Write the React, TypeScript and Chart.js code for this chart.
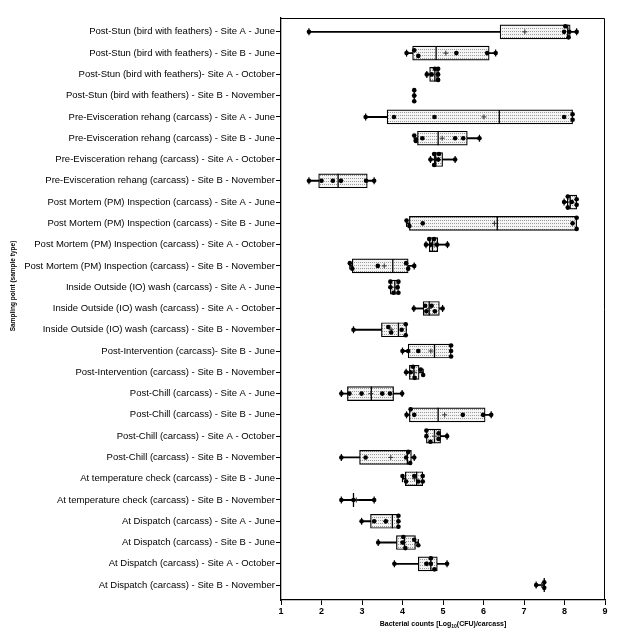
import React, { useEffect, useRef } from "react";
import { Chart, registerables } from "chart.js";

Chart.register(...registerables);

const labels = [
  "Post-Stun (bird with feathers) - Site A - June",
  "Post-Stun (bird with feathers) - Site B - June",
  "Post-Stun (bird with feathers)- Site A - October",
  "Post-Stun (bird with feathers) - Site B - November",
  "Pre-Evisceration rehang (carcass) - Site A - June",
  "Pre-Evisceration rehang (carcass) - Site B - June",
  "Pre-Evisceration rehang (carcass) - Site A - October",
  "Pre-Evisceration rehang (carcass) - Site B - November",
  "Post Mortem (PM) Inspection (carcass) - Site A - June",
  "Post Mortem (PM) Inspection (carcass) - Site B - June",
  "Post Mortem (PM) Inspection (carcass) - Site A - October",
  "Post Mortem (PM) Inspection (carcass) - Site B - November",
  "Inside Outside (IO) wash (carcass) - Site A - June",
  "Inside Outside (IO) wash (carcass) - Site A - October",
  "Inside Outside (IO) wash (carcass) - Site B - November",
  "Post-Intervention (carcass)- Site B - June",
  "Post-Intervention (carcass) - Site B - November",
  "Post-Chill (carcass) - Site A - June",
  "Post-Chill (carcass) - Site B - June",
  "Post-Chill (carcass) - Site A - October",
  "Post-Chill (carcass) - Site B - November",
  "At temperature check (carcass) - Site B - June",
  "At temperature check (carcass) - Site B - November",
  "At Dispatch (carcass) - Site A - June",
  "At Dispatch (carcass) - Site B - June",
  "At Dispatch (carcass) - Site A - October",
  "At Dispatch (carcass) - Site B - November",
];

const boxMin = [1.69, 4.10, 4.60, 4.29, 3.09, 4.29, 4.69, 1.69, 7.99, 4.10, 4.58, 2.70, 3.70, 4.28, 2.79, 4.00, 4.09, 2.49, 4.10, 4.59, 2.49, 4.00, 2.49, 2.99, 3.40, 3.80, 7.30];
const boxQ1 = [6.41, 4.25, 4.67, 4.29, 3.62, 4.37, 4.78, 1.93, 8.07, 4.17, 4.66, 2.76, 3.70, 4.51, 3.48, 4.14, 4.17, 2.64, 4.17, 4.59, 2.94, 4.07, 2.79, 3.21, 3.85, 4.39, 7.50];
const boxMedian = [8.08, 4.83, 4.80, 4.29, 6.39, 4.88, 4.82, 2.41, 8.14, 6.34, 4.74, 3.76, 3.81, 4.66, 3.90, 4.79, 4.28, 3.23, 4.88, 4.79, 4.12, 4.35, 2.79, 3.75, 4.05, 4.70, 7.50];
const boxQ3 = [8.14, 6.14, 4.86, 4.29, 8.20, 5.60, 4.99, 3.13, 8.30, 8.30, 4.87, 4.14, 3.90, 4.91, 4.10, 5.20, 4.41, 3.78, 6.04, 4.94, 4.22, 4.50, 2.79, 3.90, 4.32, 4.86, 7.50];
const boxMax = [8.30, 6.30, 4.88, 4.29, 8.20, 5.90, 5.30, 3.30, 8.30, 8.30, 5.11, 4.29, 3.90, 4.99, 4.10, 5.20, 4.51, 3.99, 6.19, 5.10, 4.29, 4.50, 3.30, 3.90, 4.39, 5.10, 7.50];
const boxMean = [7.02, 5.07, 4.79, 4.29, 6.01, 4.98, 4.89, 2.48, 8.15, 6.27, 4.78, 3.55, 3.81, 4.66, 3.72, 4.70, 4.30, 3.22, 5.04, 4.79, 3.71, 4.30, 2.86, 3.58, 4.03, 4.61, 7.43];
const samples: number[][] = [
  [1.69, 7.99, 8.02, 8.10, 8.12, 8.30],
  [4.10, 4.29, 4.39, 5.33, 6.09, 6.30],
  [4.60, 4.72, 4.80, 4.88, 4.88, 4.88],
  [4.29, 4.29, 4.29],
  [3.09, 3.79, 4.79, 7.99, 8.20, 8.20],
  [4.29, 4.33, 4.49, 5.30, 5.50, 5.90],
  [4.69, 4.78, 4.78, 4.88, 4.90, 5.30],
  [1.69, 2.00, 2.28, 2.48, 3.10, 3.30],
  [7.99, 8.08, 8.08, 8.18, 8.30, 8.30],
  [4.10, 4.17, 4.50, 8.20, 8.30, 8.30],
  [4.58, 4.66, 4.70, 4.78, 4.85, 5.11],
  [2.70, 2.76, 3.39, 4.09, 4.14, 4.29],
  [3.70, 3.70, 3.78, 3.88, 3.90, 3.90],
  [4.28, 4.56, 4.59, 4.72, 4.80, 4.99],
  [2.79, 3.65, 3.72, 3.98, 4.08, 4.08],
  [4.00, 4.14, 4.39, 5.20, 5.20, 5.20],
  [4.09, 4.20, 4.26, 4.30, 4.45, 4.51],
  [2.49, 2.69, 2.99, 3.50, 3.69, 3.99],
  [4.10, 4.20, 4.29, 5.49, 5.99, 6.19],
  [4.59, 4.59, 4.69, 4.89, 4.89, 5.10],
  [2.49, 3.09, 4.09, 4.14, 4.19, 4.29],
  [4.00, 4.09, 4.29, 4.39, 4.50, 4.50],
  [2.49, 2.79, 3.30],
  [2.99, 3.30, 3.59, 3.90, 3.90, 3.90],
  [3.40, 4.00, 4.02, 4.07, 4.29, 4.39],
  [3.80, 4.59, 4.70, 4.70, 4.79, 5.10],
  [7.30, 7.50, 7.50],
];

const FONT = "'Liberation Sans', Arial, sans-serif";

// vertical spreading of overlapping dots (in row units)
function swarm(values: number[]): number[] {
  const thr = 0.11;
  const step = 0.26;
  const idx = values.map((_, i) => i).sort((a, b) => values[a] - values[b]);
  const offs = new Array(values.length).fill(0);
  const clusters: number[][] = [];
  let cur: number[] = [];
  for (const i of idx) {
    if (cur.length && values[i] - values[cur[cur.length - 1]] > thr) {
      clusters.push(cur);
      cur = [];
    }
    cur.push(i);
  }
  if (cur.length) clusters.push(cur);
  for (const c of clusters) {
    let L = 1;
    for (const i of c) {
      const n = c.filter((j) => Math.abs(values[j] - values[i]) <= thr).length;
      L = Math.max(L, n);
    }
    L = Math.min(L, 3);
    const levels = Array.from({ length: L }, (_, k) => k - (L - 1) / 2);
    const order = levels.map((_, k) => k).sort((a, b) => Math.abs(levels[a]) - Math.abs(levels[b]) || a - b);
    const lastAt = levels.map(() => -Infinity);
    for (const i of c) {
      let chosen = -1;
      for (const k of order) {
        if (values[i] - lastAt[k] > thr) {
          chosen = k;
          break;
        }
      }
      if (chosen < 0) {
        chosen = 0;
        for (let k = 1; k < L; k++) if (lastAt[k] < lastAt[chosen]) chosen = k;
      }
      lastAt[chosen] = values[i];
      offs[i] = levels[chosen] * step;
    }
  }
  return offs;
}

function makePattern(): CanvasPattern | string {
  const c = document.createElement("canvas");
  c.width = 2;
  c.height = 3;
  const g = c.getContext("2d");
  if (!g) return "#eee";
  g.fillStyle = "#f4f4f4";
  g.fillRect(0, 0, 2, 3);
  g.fillStyle = "#9a9a9a";
  g.fillRect(0, 1, 1, 1);
  return g.createPattern(c, "repeat") || "#eee";
}

const framePlugin = {
  id: "frame",
  afterDraw(chart: any) {
    const { ctx, chartArea } = chart;
    ctx.save();
    ctx.strokeStyle = "#000";
    ctx.lineWidth = 1;
    ctx.beginPath();
    ctx.moveTo(chartArea.left, chartArea.top + 0.5);
    ctx.lineTo(chartArea.right - 0.5, chartArea.top + 0.5);
    ctx.lineTo(chartArea.right - 0.5, chartArea.bottom);
    ctx.stroke();
    ctx.restore();
  },
};

const titlesPlugin = {
  id: "titles",
  afterDraw(chart: any) {
    const { ctx, chartArea } = chart;
    ctx.save();
    ctx.fillStyle = "#000";
    // y title
    ctx.translate(13, 286);
    ctx.rotate(-Math.PI / 2);
    ctx.font = `bold 6.5px ${FONT}`;
    ctx.textAlign = "center";
    ctx.textBaseline = "middle";
    ctx.fillText("Sampling point (sample type)", 0, 0);
    ctx.restore();

    // x title with subscript
    ctx.save();
    ctx.fillStyle = "#000";
    ctx.textBaseline = "middle";
    const main = `bold 7px ${FONT}`;
    const sub = `bold 5px ${FONT}`;
    const p1 = "Bacterial counts [Log";
    const p2 = "10";
    const p3 = "(CFU)/carcass]";
    ctx.font = main;
    const w1 = ctx.measureText(p1).width;
    const w3 = ctx.measureText(p3).width;
    ctx.font = sub;
    const w2 = ctx.measureText(p2).width;
    const total = w1 + w2 + w3;
    const cx = (chartArea.left + chartArea.right) / 2;
    let x = cx - total / 2;
    const y = 624;
    ctx.textAlign = "left";
    ctx.font = main;
    ctx.fillText(p1, x, y);
    x += w1;
    ctx.font = sub;
    ctx.fillText(p2, x, y + 2.5);
    x += w2;
    ctx.font = main;
    ctx.fillText(p3, x, y);
    ctx.restore();
  },
};

export default function App() {
  const ref = useRef<HTMLCanvasElement | null>(null);

  useEffect(() => {
    document.body.style.margin = "0";
    const canvas = ref.current;
    if (!canvas) return;
    const rows = labels.map((_, i) => i + 1);
    const pattern = makePattern();

    const whiskerData = rows.map((r, i) => ({ x: [boxMin[i], boxMax[i]], y: r }));
    const boxData = rows.map((r, i) => ({ x: [boxQ1[i], boxQ3[i]], y: r }));
    const medianData = rows.map((r, i) => ({ x: boxMedian[i], y: r }));
    const meanData = rows.map((r, i) => ({ x: boxMean[i], y: r }));
    const capData: { x: number; y: number }[] = [];
    rows.forEach((r, i) => {
      if (boxMin[i] < boxQ1[i]) capData.push({ x: boxMin[i], y: r });
      if (boxMax[i] > boxQ3[i]) capData.push({ x: boxMax[i], y: r });
    });
    const pointData: { x: number; y: number }[] = [];
    samples.forEach((vals, i) => {
      const offs = swarm(vals);
      vals.forEach((v, k) => pointData.push({ x: v, y: rows[i] + offs[k] }));
    });

    const gridCfg = {
      display: true,
      offset: false,
      drawOnChartArea: false,
      drawTicks: true,
      tickLength: 5,
      color: "#000",
      lineWidth: 1,
    };

    const chart = new Chart(canvas, {
      type: "bar",
      data: {
        datasets: [
          {
            type: "bar",
            indexAxis: "y",
            data: whiskerData as any,
            barThickness: 1.2,
            backgroundColor: "#000",
            borderWidth: 0,
            grouped: false,
            order: 5,
          } as any,
          {
            type: "bar",
            indexAxis: "y",
            data: boxData as any,
            barThickness: 14,
            backgroundColor: pattern,
            borderColor: "#000",
            borderWidth: 1.2,
            borderSkipped: false,
            grouped: false,
            order: 4,
          } as any,
          {
            type: "scatter",
            data: medianData,
            pointStyle: "line",
            rotation: 90,
            pointRadius: 7,
            borderColor: "#000",
            borderWidth: 1.3,
            order: 3,
          } as any,
          {
            type: "scatter",
            data: capData,
            pointStyle: "line",
            rotation: 90,
            pointRadius: 3.5,
            borderColor: "#000",
            borderWidth: 1.2,
            order: 2,
          } as any,
          {
            type: "scatter",
            data: meanData,
            pointStyle: "cross",
            pointRadius: 2.5,
            borderColor: "#333",
            borderWidth: 1,
            order: 1,
          } as any,
          {
            type: "scatter",
            data: pointData,
            pointStyle: "circle",
            pointRadius: 2.3,
            backgroundColor: "#000",
            borderWidth: 0,
            order: 0,
          } as any,
        ],
      },
      options: {
        responsive: false,
        animation: false,
        events: [],
        layout: { padding: { left: 0, top: 18, right: 32, bottom: 0 } },
        plugins: { legend: { display: false }, tooltip: { enabled: false } },
        scales: {
          x: {
            type: "linear",
            position: "bottom",
            offset: false,
            min: 1,
            max: 9,
            ticks: {
              stepSize: 1,
              color: "#000",
              padding: 1,
              font: { family: FONT, size: 9, weight: "bold" },
            },
            grid: gridCfg,
            border: { display: true, color: "#000", width: 1.3 },
            afterFit: (s: any) => {
              s.height = 43;
            },
          },
          y: {
            type: "linear",
            position: "left",
            offset: false,
            min: 0.35,
            max: 27.7,
            reverse: true,
            afterBuildTicks: (s: any) => {
              s.ticks = rows.map((v) => ({ value: v }));
            },
            ticks: {
              autoSkip: false,
              color: "#000",
              padding: 1,
              font: { family: FONT, size: 9.5 },
              callback: (v: any) => labels[Math.round(Number(v)) - 1] ?? "",
            },
            grid: gridCfg,
            border: { display: true, color: "#000", width: 1.3 },
            afterFit: (s: any) => {
              s.width = 281;
            },
          },
        } as any,
      },
      plugins: [framePlugin, titlesPlugin],
    });
    return () => chart.destroy();
  }, []);

  return (
    <div style={{ width: 637, height: 643, background: "#fff" }}>
      <canvas ref={ref} width={637} height={643} />
    </div>
  );
}
